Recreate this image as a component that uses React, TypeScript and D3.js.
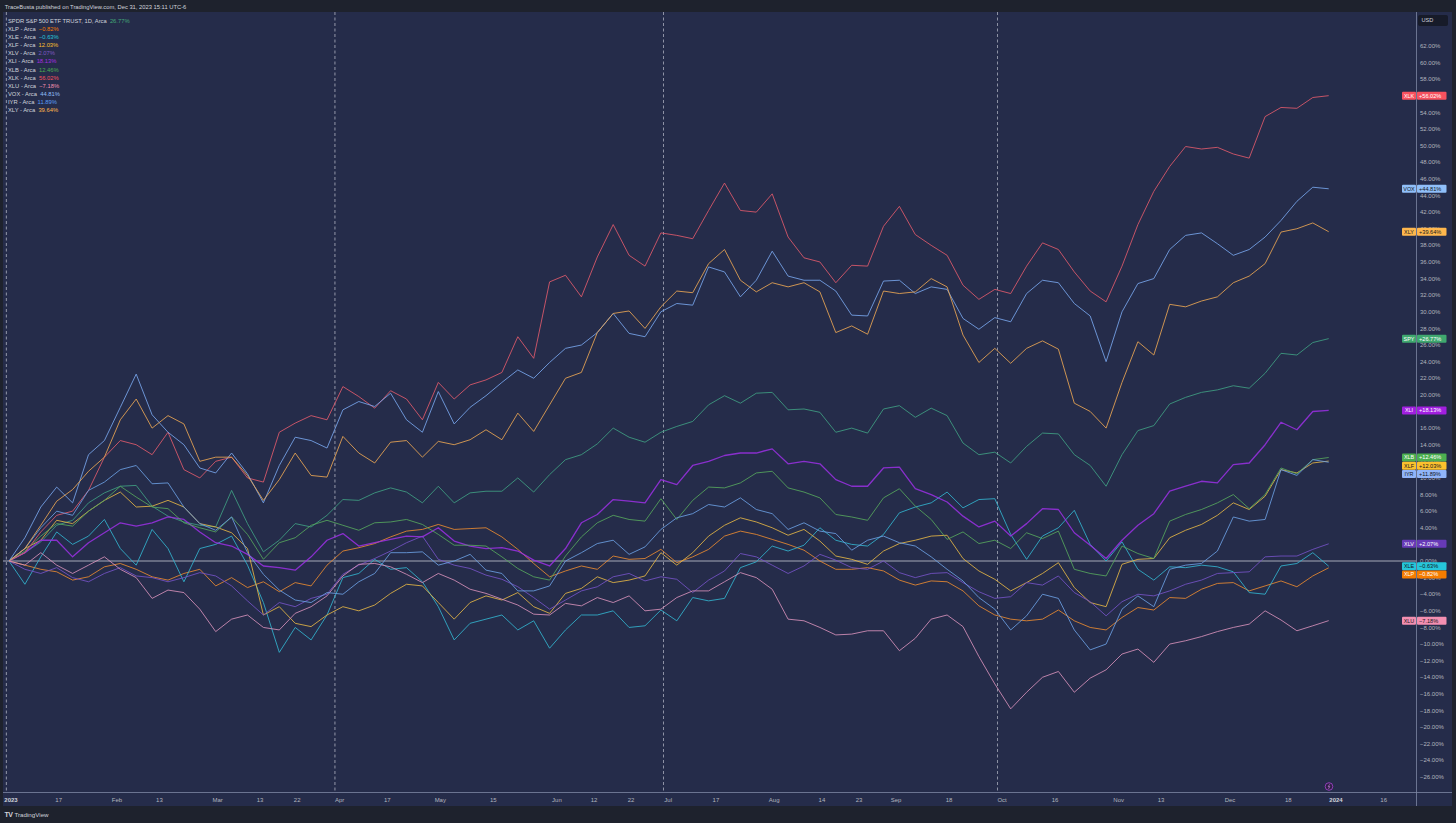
import React from 'react';
import * as d3 from 'd3';

// trading-day index (0 = 2023-01-03) of each sampled close
const dayIndex = [0,3,6,9,12,15,18,21,24,27,30,33,36,39,42,45,48,51,54,57,60,63,66,69,72,75,78,81,84,87,90,93,96,99,102,105,108,111,114,117,120,123,126,129,132,135,138,141,144,147,150,153,156,159,162,165,168,171,174,177,180,183,186,189,192,195,198,201,204,207,210,213,216,219,222,225,228,231,234,237,240,243,246,249];

// % change since first bar
const SPY = [0,1.0,2.3,4.3,4.9,7.0,8.2,9.0,9.1,6.6, 5.4,4.7,4.3,4.1,8.5,4.5,1.1,2.5,4.5,4.1, 5.5,7.4,7.3,8.2,8.8,8.3,7.0,9.0,7.0,8.2, 8.4,8.4,10.0,8.3,10.4,12.2,12.8,14.1,16.0,14.9, 14.3,15.5,16.2,16.8,18.8,19.9,19.0,20.2,20.3,18.2, 18.3,17.9,15.5,16.0,15.4,18.3,18.7,17.3,18.4,17.5, 14.2,12.8,13.1,11.8,13.8,15.4,15.3,12.8,11.5,9.0, 12.8,15.7,16.3,18.9,19.7,20.3,20.6,21.1,20.8,22.6, 25.0,24.8,26.3,26.77];
const XLP = [0,-0.5,-1.0,-1.3,-2.3,-1.9,-0.7,-0.3,-1.0,-1.9, -2.3,-1.5,-1.0,-3.0,-2.0,-3.2,-2.5,-3.7,-2.6,-3.0, -0.5,1.2,1.6,2.1,2.9,3.6,3.8,4.4,3.8,3.9, 4.0,2.9,1.4,-0.3,-1.9,-1.2,-0.6,-1.0,0.6,0.2, 0.3,1.4,-0.2,0.5,1.4,3.0,3.6,3.2,2.6,2.0, 1.3,0.0,-1.0,-1.0,-0.8,-1.2,-2.3,-2.9,-2.4,-2.5, -3.6,-5.4,-6.5,-7.0,-7.2,-7.0,-5.9,-7.2,-8.0,-8.3, -6.8,-5.6,-5.9,-4.4,-4.5,-3.4,-2.7,-2.6,-3.6,-3.0, -2.4,-3.1,-1.8,-0.82];
const XLE = [0,-2.8,0.5,3.5,2.0,3.0,5.0,1.5,-0.5,3.8, 1.5,-2.5,1.5,2.0,3.0,-0.5,-5.0,-11.0,-8.0,-9.5, -6.5,-2.0,-1.5,0.2,-1.0,-0.8,-2.5,-5.5,-9.5,-7.5, -7.0,-6.5,-8.3,-7.2,-10.5,-8.3,-6.5,-6.5,-6.0,-8.0, -7.8,-5.9,-7.2,-4.4,-4.8,-4.5,-0.8,-0.1,1.8,1.2, 1.9,4.0,2.5,2.0,1.8,3.2,5.8,6.5,7.0,8.3, 6.4,7.4,7.5,3.2,0.2,3.0,4.0,6.1,2.0,0.0, 2.3,-1.0,-2.3,-0.7,-0.8,-0.5,-0.7,-1.3,-3.8,-4.0, -0.6,-0.3,1.0,-0.63];
const XLF = [0,1.5,2.5,4.9,4.5,6.0,7.3,8.3,6.5,6.6, 7.3,6.5,4.5,4.1,3.4,1.5,-6.5,-5.5,-7.5,-7.9, -6.5,-5.5,-6.0,-5.3,-3.9,-2.8,-3.0,-5.0,-7.0,-5.0, -4.2,-4.7,-3.8,-5.5,-6.3,-3.9,-3.3,-1.9,-2.6,-2.3, -1.8,1.0,-0.5,1.0,3.0,4.3,5.2,4.7,4.0,3.1, 3.8,2.4,0.6,0.2,-0.4,1.2,2.1,2.5,3.0,3.1, 0.3,-1.2,-2.2,-3.6,-2.6,-1.5,-0.2,-3.2,-5.0,-5.5, -0.4,0.2,0.3,2.8,3.7,4.4,5.5,7.0,6.2,7.8, 11.0,10.6,11.8,12.03];
const XLV = [0,-1.0,-1.5,-0.8,-2.0,-2.5,-1.5,-0.8,-1.8,-2.0, -2.5,-2.0,-1.4,-1.8,-3.0,-4.8,-6.5,-5.0,-5.5,-4.5, -4.0,-1.6,-0.5,0.3,1.2,2.2,3.0,0.2,-0.5,-0.9, -1.7,-2.2,-3.1,-4.4,-5.8,-4.7,-3.6,-3.1,-1.9,-1.5, -2.4,-1.9,-2.2,-3.8,-2.3,-1.2,0.9,0.5,-0.5,-1.5, -0.6,0.8,0.1,-0.8,-1.0,0.0,-1.4,-2.0,-1.5,-1.4, -2.6,-3.7,-4.5,-4.3,-2.6,-2.9,-1.8,-3.8,-4.9,-6.6, -4.9,-4.0,-4.2,-3.6,-2.8,-2.3,-1.5,-1.4,-1.3,0.5, 0.6,0.6,1.4,2.07];
const XLI = [0,1.0,2.5,2.5,0.5,2.2,3.4,4.6,4.2,4.6, 5.3,5.0,3.5,2.2,1.8,0.8,-0.6,-0.8,-1.1,0.5, 2.5,3.3,1.8,2.2,2.6,3.0,2.9,4.0,2.4,1.8, 1.5,1.6,1.2,0.1,-0.6,1.5,4.6,5.6,7.4,7.2, 7.0,9.8,9.2,11.5,12.0,12.7,13.0,13.0,13.5,11.7, 12.0,11.7,9.8,9.0,9.0,11.2,11.3,8.7,8.0,7.1, 5.4,4.1,4.8,3.0,4.5,6.3,6.2,3.4,1.9,0.3, 2.5,4.3,5.7,8.4,9.0,9.6,9.4,11.6,11.8,14.0, 16.7,15.8,18.0,18.13];
const XLB = [0,1.2,3.0,4.5,4.2,6.0,7.3,9.0,7.7,6.5, 6.3,4.6,4.0,3.5,5.3,3.2,0.2,2.2,2.8,4.3, 4.9,4.3,3.7,4.6,4.7,5.0,4.4,3.2,1.9,1.9, 1.8,0.5,-0.9,-1.9,-2.3,0.6,2.9,4.6,5.5,5.0, 4.8,7.5,5.0,7.3,8.9,8.8,9.4,10.6,10.8,8.8, 8.3,7.6,5.6,5.3,4.9,7.6,8.7,6.6,5.0,2.6, 3.5,2.1,2.5,1.5,3.4,2.7,3.6,-1.0,-1.5,-1.8, 1.8,0.9,0.3,4.8,5.6,6.2,7.0,8.0,6.3,8.0, 11.2,10.5,12.2,12.46];
const XLK = [0,1.0,3.5,5.5,6.0,8.5,12.5,14.5,14.0,12.8, 15.5,11.0,10.0,12.0,12.5,10.0,9.5,15.5,16.6,17.5, 17.0,21.0,19.8,18.4,20.5,19.5,17.0,21.5,19.5,21.2, 21.8,22.7,27.0,24.4,33.6,34.4,31.8,36.6,40.5,36.8, 35.5,39.5,39.2,38.8,42.2,45.5,42.2,42.0,44.2,39.0, 36.5,36.0,33.5,35.6,35.5,40.3,42.7,39.3,38.0,36.8, 33.2,31.5,32.7,32.2,35.5,38.3,37.5,34.8,32.5,31.2, 35.5,40.5,44.5,47.5,49.9,49.6,49.8,49.0,48.5,53.5, 54.6,54.5,55.8,56.02];
const XLU = [0,-0.5,1.0,-0.5,-1.5,-0.5,0.5,-1.0,-2.0,-4.5, -3.5,-3.8,-5.8,-8.5,-7.0,-6.5,-8.0,-8.3,-6.3,-5.5, -4.2,-1.8,-0.4,-0.3,-0.7,-1.6,-2.6,-1.5,-2.3,-3.4, -3.9,-4.6,-5.3,-6.4,-6.5,-5.1,-5.4,-4.4,-5.0,-4.2, -6.0,-5.8,-4.4,-3.6,-3.6,-2.5,-1.4,-2.0,-3.4,-7.0, -7.2,-8.0,-8.9,-8.8,-8.4,-8.4,-10.8,-9.3,-7.0,-6.5, -7.9,-11.5,-14.8,-17.8,-15.8,-14.0,-13.3,-15.8,-14.1,-13.1, -11.2,-10.6,-12.2,-10.0,-9.6,-9.1,-8.5,-8.0,-7.6,-6.0, -7.1,-8.4,-7.8,-7.18];
const VOX = [0,2.8,6.5,8.9,7.0,12.8,14.5,18.5,22.5,17.6, 15.5,14.0,11.2,10.6,13.0,10.5,7.0,11.5,14.9,14.5, 13.6,18.2,19.2,18.6,20.2,17.0,15.5,20.4,16.5,18.5, 19.9,21.5,23.0,22.0,23.9,25.6,26.0,27.5,29.8,27.4, 27.0,30.0,31.0,30.8,35.4,34.8,31.8,33.8,37.3,34.3, 33.8,33.8,32.5,29.6,29.5,33.7,33.8,32.2,33.0,32.7, 29.2,27.9,29.3,28.8,32.2,33.8,33.5,31.0,29.5,24.0, 30.0,33.4,34.0,37.5,39.2,39.5,38.2,36.8,37.5,39.0, 41.0,43.3,45.0,44.81];
const IYR = [0,1.5,4.0,6.0,5.5,8.5,9.5,11.0,11.5,9.3, 9.4,6.5,4.5,3.7,5.3,1.0,-1.6,-3.5,-4.7,-5.0, -3.8,-4.0,-2.5,-1.5,1.0,1.0,1.1,-0.5,0.0,0.8, -1.1,-1.5,-3.6,-3.6,-3.0,0.0,1.0,2.1,2.5,0.8, 1.7,3.8,5.2,5.7,6.8,6.5,7.6,6.2,5.7,3.8, 4.6,3.6,3.3,1.3,2.5,3.0,2.2,1.8,0.5,-1.0, -2.4,-4.4,-5.8,-8.3,-6.6,-4.0,-4.5,-8.3,-10.7,-10.0, -5.8,-4.2,-5.5,-1.0,-0.5,-0.3,1.2,5.3,4.8,5.0, 11.0,10.3,12.2,11.89];
const XLY = [0,1.5,4.3,7.2,8.6,10.8,12.5,17.0,19.5,16.0, 17.5,16.5,12.0,12.5,12.5,10.3,7.3,9.8,13.0,10.3, 10.1,15.0,13.0,11.8,14.3,14.5,12.5,14.4,14.0,14.6, 15.8,14.6,17.8,15.6,18.8,22.0,22.7,27.5,29.8,30.1, 28.0,30.6,32.5,32.3,35.8,37.5,33.8,32.4,33.5,33.0, 33.5,32.4,27.5,28.3,27.3,32.5,32.2,32.4,34.0,33.0, 27.2,23.9,25.6,23.8,25.6,26.5,25.5,19.0,18.0,16.0, 21.5,26.4,24.8,30.9,30.6,31.3,31.8,33.5,34.3,35.8, 39.6,40.0,40.7,39.64];

const tickers = ['SPY','XLP','XLE','XLF','XLV','XLI','XLB','XLK','XLU','VOX','IYR','XLY'];
const legendNames = ['SPDR S&P 500 ETF TRUST, 1D, Arca','XLP - Arca','XLE - Arca','XLF - Arca','XLV - Arca','XLI - Arca','XLB - Arca','XLK - Arca','XLU - Arca','VOX - Arca','IYR - Arca','XLY - Arca'];
const finals = [26.77,-0.82,-0.63,12.03,2.07,18.13,12.46,56.02,-7.18,44.81,11.89,39.64];
const seriesValues = [SPY,XLP,XLE,XLF,XLV,XLI,XLB,XLK,XLU,VOX,IYR,XLY];

const yTicks = [-26,-24,-22,-20,-18,-16,-14,-12,-10,-8,-6,-4,-2,0,2,4,6,8,10,12,14,16,18,20,22,24,26,28,30,32,34,36,38,40,42,44,46,48,50,52,54,56,58,60,62];
const timeLabels = ['2023','17','Feb','13','Mar','13','22','Apr','17','May','15','Jun','12','22','Jul','17','Aug','14','23','Sep','18','Oct','16','Nov','13','Dec','18','2024','16'];
const timeDays = [0,9,20,28,39,47,54,62,71,81,91,103,110,117,124,133,144,153,160,167,177,187,197,209,217,230,241,250,259];
const quarterStartDays = [0,62,124,187];

// styles
const lineColor: Record<string,string> = {SPY:'#3f9f83',XLP:'#e98a30',XLE:'#33b4cf',XLF:'#e3b545',XLV:'#7452c6',XLI:'#9b30e4',XLB:'#56a65d',XLK:'#e05a6c',XLU:'#d690ba',VOX:'#78a6ec',IYR:'#6b9fe2',XLY:'#eaa654'};
const tagColor: Record<string,string> = {SPY:'#3fa86f',XLP:'#f57c00',XLE:'#26c6da',XLF:'#fbc02d',XLV:'#673ab7',XLI:'#a11fe0',XLB:'#4caf50',XLK:'#f7525f',XLU:'#f48fb1',VOX:'#90bff9',IYR:'#90b4f9',XLY:'#ffb74d'};
const tagText: Record<string,string> = {SPY:'#ffffff',XLP:'#ffffff',XLE:'#131722',XLF:'#131722',XLV:'#ffffff',XLI:'#ffffff',XLB:'#ffffff',XLK:'#ffffff',XLU:'#131722',VOX:'#131722',IYR:'#131722',XLY:'#131722'};
const legendColor: Record<string,string> = {SPY:'#43a878',XLP:'#f57c00',XLE:'#26c6da',XLF:'#fbc02d',XLV:'#7e57c2',XLI:'#a82ee0',XLB:'#4caf50',XLK:'#f7525f',XLU:'#f48fb1',VOX:'#90bff9',IYR:'#5b9cf6',XLY:'#ffb74d'};

const FONT = '"Liberation Sans", Arial, sans-serif';
const NAVY = '#252c4a';
const DARK = '#1e222d';

const fmtPct = (v: number) => (v < 0 ? '\u2212' : '') + Math.abs(v).toFixed(2) + '%';
const fmtTag = (v: number) => (v < 0 ? '\u2212' : '+') + Math.abs(v).toFixed(2) + '%';

export default function App() {
  const W = 1456, H = 823;
  const plotL = 3, plotR = 1416.5, plotT = 12, plotB = 792.5, panelR = 1452, panelB = 806;
  const x = d3.scaleLinear().domain([0, 249]).range([9, 1328.7]);
  const y = d3.scaleLinear().domain([0, 62]).range([561, 46]);
  const line = d3.line<number>().x((_, i) => x(dayIndex[i])).y(d => y(d));

  const tags = tickers.map((t, k) => ({ t, v: finals[k], y0: y(finals[k]), ty: 0 })).sort((a, b) => a.y0 - b.y0);
  let prev = -1e9;
  tags.forEach(tg => { tg.ty = Math.max(tg.y0, prev + 8.2); prev = tg.ty; });

  return (
    <div style={{ position: 'fixed', left: 0, top: 0, width: W, height: H, background: DARK }}>
      <svg width={W} height={H} style={{ display: 'block', fontFamily: FONT }}>
        <rect x={0} y={0} width={W} height={H} fill={DARK} />
        <rect x={plotL} y={plotT} width={panelR - plotL} height={panelB - plotT} fill={NAVY} />
        <text x={4.7} y={7} dy="0.35em" fontSize={5.8} fill="#d1d4dc">TraceBusta published on TradingView.com, Dec 31, 2023 15:11 UTC-6</text>

        {/* quarter separators */}
        {quarterStartDays.map((d, k) => (
          <line key={k} x1={x(d - 0.5)} x2={x(d - 0.5)} y1={plotT} y2={plotB} stroke="#c9ccd8" strokeWidth={0.8} strokeDasharray="3,2.5" opacity={0.85} />
        ))}

        {/* zero line */}
        <line x1={plotL} x2={plotR} y1={y(0)} y2={y(0)} stroke="#a6a9b8" strokeWidth={1} />

        {/* series lines */}
        <defs>
          <clipPath id="plotclip"><rect x={plotL} y={plotT} width={plotR - plotL} height={plotB - plotT} /></clipPath>
        </defs>
        <g clipPath="url(#plotclip)">
          {tickers.map((t, k) => (
            <path key={t} d={line(seriesValues[k]) || ''} fill="none" stroke={lineColor[t]} strokeWidth={t === 'XLI' ? 1.3 : 1} strokeOpacity={0.85} strokeLinejoin="round" />
          ))}
        </g>

        {/* axes borders */}
        <line x1={plotR} x2={plotR} y1={plotT} y2={panelB} stroke="#7d86a3" strokeWidth={0.8} />
        <line x1={plotL} x2={panelR} y1={plotB} y2={plotB} stroke="#7d86a3" strokeWidth={0.8} />

        {/* y tick labels */}
        {yTicks.map(v => (
          <text key={v} x={1420} y={y(v)} dy="0.35em" fontSize={6} fill="#b2b5be">{fmtPct(v)}</text>
        ))}
        <rect x={1418} y={15} width={30} height={11} rx={2} fill="#171b29" />
        <text x={1421.5} y={20.5} dy="0.35em" fontSize={5.6} fill="#d1d4dc">USD</text>

        {/* time labels */}
        {timeLabels.map((lab, k) => {
          const bold = lab === '2023' || lab === '2024';
          return (
            <text key={k} x={x(timeDays[k]) + 2} y={799.5} dy="0.35em" textAnchor="middle" fontSize={6} fontWeight={bold ? 'bold' : 'normal'} fill={bold ? '#d1d4dc' : '#b2b5be'}>{lab}</text>
          );
        })}

        {/* event marker */}
        <circle cx={1329} cy={786.5} r={3.8} fill="#2e1f45" stroke="#a944d4" strokeWidth={0.8} />
        <path d="M1329.6,784.3 L1328.2,786.7 L1329.8,786.5 L1328.5,788.9" fill="none" stroke="#d68ff0" strokeWidth={0.6} />

        {/* last value tags */}
        {tags.map(tg => (
          <g key={tg.t}>
            <rect x={1402} y={tg.ty - 4} width={14} height={8} rx={1} fill={tagColor[tg.t]} />
            <rect x={1417} y={tg.ty - 4} width={29.5} height={8} rx={1} fill={tagColor[tg.t]} />
            <text x={1409} y={tg.ty} dy="0.35em" textAnchor="middle" fontSize={5.4} fill={tagText[tg.t]}>{tg.t}</text>
            <text x={1419} y={tg.ty} dy="0.35em" fontSize={5.6} fill={tagText[tg.t]}>{fmtTag(tg.v)}</text>
          </g>
        ))}

        {/* legend */}
        {tickers.map((t, k) => (
          <text key={t} x={8} y={20.7 + k * 8.15} dy="0.35em" fontSize={5.8} fill="#d1d4dc">
            {legendNames[k]}
            <tspan dx={3.2} fill={legendColor[t]}>{fmtPct(finals[k])}</tspan>
          </text>
        ))}

        {/* footer */}
        <text x={4.5} y={814.5} dy="0.35em" fontSize={7} fontWeight="bold" fill="#d1d4dc" letterSpacing={-0.6}>TV</text>
        <text x={14.5} y={814.5} dy="0.35em" fontSize={6.2} fill="#d1d4dc">TradingView</text>
      </svg>
    </div>
  );
}
